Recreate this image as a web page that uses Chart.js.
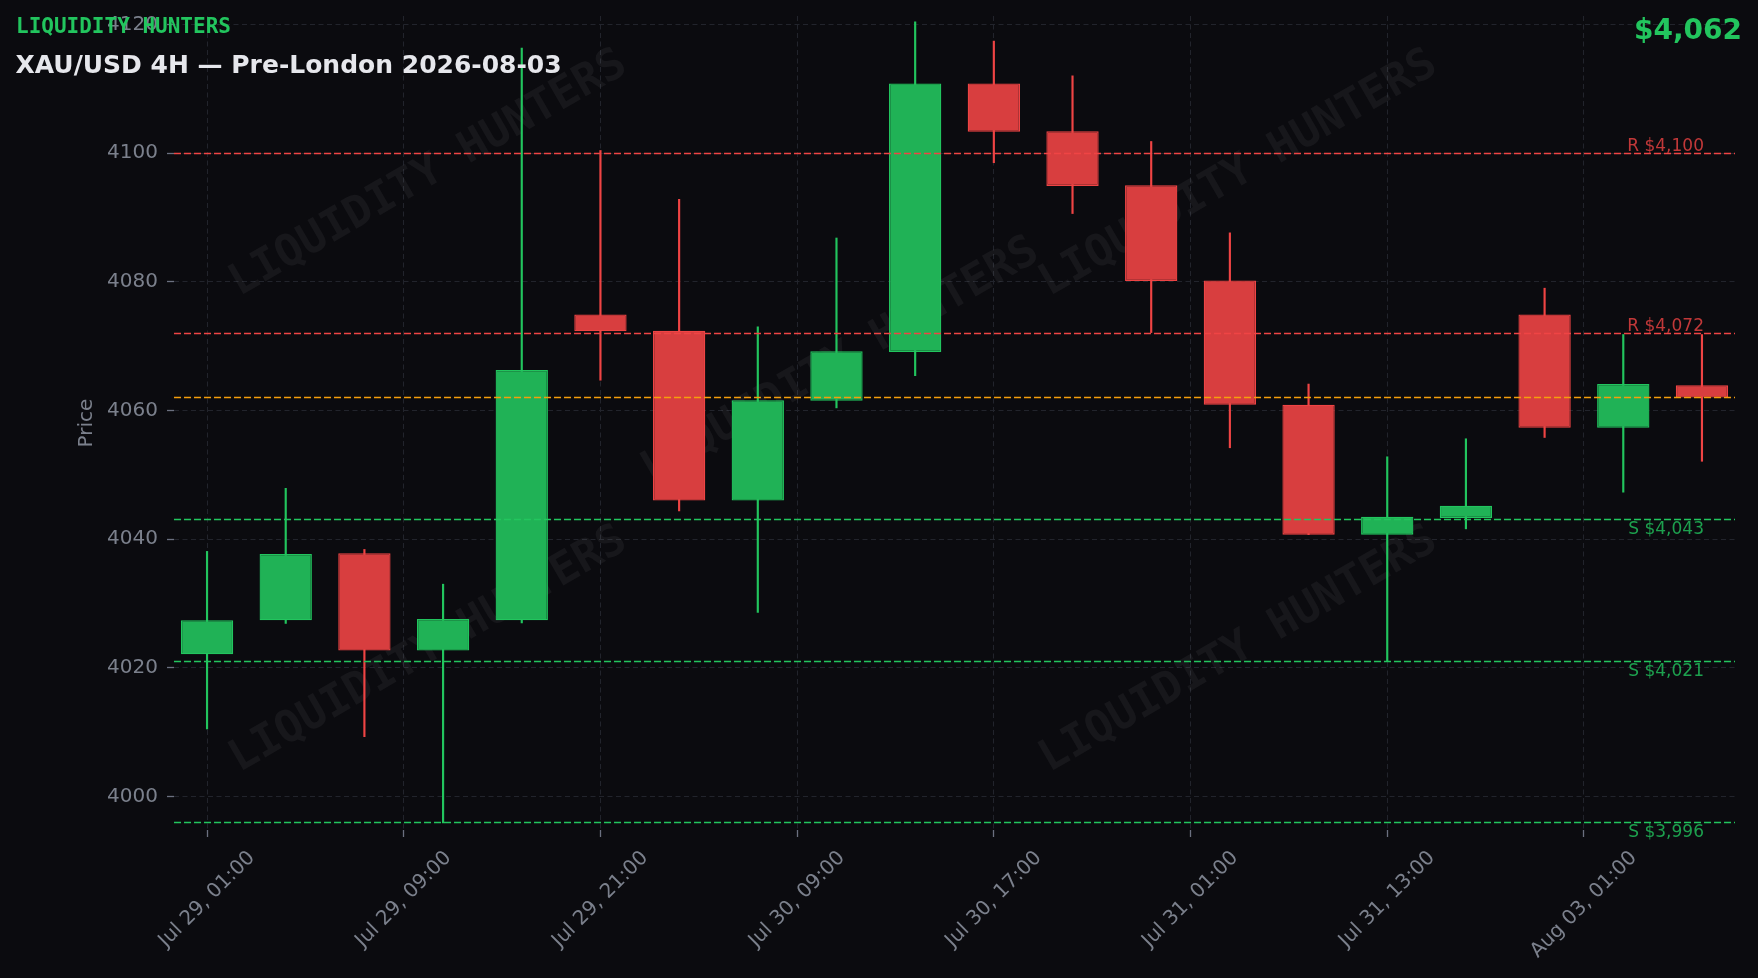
<!DOCTYPE html>
<html>
<head>
<meta charset="utf-8">
<title>XAU/USD 4H — Pre-London 2026-08-03</title>
<script src="https://cdn.jsdelivr.net/npm/chart.js@4.4.1/dist/chart.umd.min.js"></script>
<style>
  html, body { margin: 0; padding: 0; background: #0b0b0f; }
  #wrap { width: 1758px; height: 978px; position: relative; }
</style>
</head>
<body>
<div id="wrap"><canvas id="chart"></canvas></div>
<script>
// ---------------- data ----------------
const times = [
  'Jul 29, 01:00','Jul 29, 05:00','Jul 29, 09:00','Jul 29, 13:00','Jul 29, 17:00','Jul 29, 21:00',
  'Jul 30, 01:00','Jul 30, 05:00','Jul 30, 09:00','Jul 30, 13:00','Jul 30, 17:00','Jul 30, 21:00',
  'Jul 31, 01:00','Jul 31, 05:00','Jul 31, 09:00','Jul 31, 13:00','Jul 31, 17:00','Jul 31, 21:00',
  'Aug 03, 01:00','Aug 03, 05:00'
];
const opens  = [4022.1,4027.4,4037.8,4022.7,4027.4,4074.9,4072.4,4046.0,4061.5,4069.1,4110.8,4103.4,4095.0,4080.2,4060.9,4040.7,4043.3,4074.9,4057.3,4063.9];
const highs  = [4038.1,4047.9,4038.4,4033.0,4116.3,4100.4,4092.8,4073.0,4086.8,4120.4,4117.4,4112.0,4101.8,4087.6,4064.1,4052.8,4055.6,4079.0,4071.8,4071.8];
const lows   = [4010.5,4026.9,4009.3,3995.9,4027.0,4064.7,4044.4,4028.6,4060.4,4065.4,4098.5,4090.6,4072.1,4054.2,4040.7,4021.1,4041.6,4055.8,4047.3,4052.1];
const closes = [4027.4,4037.7,4022.7,4027.6,4066.3,4072.3,4046.0,4061.6,4069.2,4110.8,4103.3,4094.9,4080.1,4060.9,4040.7,4043.5,4045.2,4057.3,4064.1,4062.0];

const xTickPositions = [0, 2.5, 5, 7.5, 10, 12.5, 15, 17.5];
const xTickLabels = ['Jul 29, 01:00','Jul 29, 09:00','Jul 29, 21:00','Jul 30, 09:00','Jul 30, 17:00','Jul 31, 01:00','Jul 31, 13:00','Aug 03, 01:00'];
const yTickValues = [4000, 4020, 4040, 4060, 4080, 4100, 4120];

const resistanceLevels = [4100, 4072];
const supportLevels = [4043, 4021, 3996];

const brandText = 'LIQUIDITY HUNTERS';
const titleText = 'XAU/USD 4H — Pre-London 2026-08-03';
const yAxisTitle = 'Price';

// ---------------- styles ----------------
const BG = '#0b0b0f';
const GREEN = '#22c55e';
const RED = '#ef4444';
const GREEN_FILL = '#20b256';
const RED_FILL = '#d83e3f';
const ORANGE = '#f59e0b';
const GRID = '#22242c';
const TICK_MARK = '#6b7080';
const LABEL = '#7b808c';
const FONT = '"DejaVu Sans", "Liberation Sans", sans-serif';
const MONO = '"DejaVu Sans Mono", "Liberation Mono", monospace';

Chart.defaults.font.family = FONT;

const idx = times.map((t, i) => i);
const isUp = i => closes[i] >= opens[i];
const lastIndex = times.length - 1;
const currentPrice = closes[lastIndex];
const fmtPrice = v => '$' + Math.round(v).toLocaleString('en-US');

// ---------------- plugins ----------------
const bgPlugin = {
  id: 'bg',
  beforeDraw(chart) {
    const c = chart.ctx;
    c.save();
    c.fillStyle = BG;
    c.fillRect(0, 0, chart.width, chart.height);
    c.restore();
  }
};

const watermarkPlugin = {
  id: 'watermark',
  beforeDatasetsDraw(chart) {
    const a = chart.chartArea;
    const c = chart.ctx;
    const spots = [[0.163, 0.194], [0.682, 0.194], [0.427, 0.424], [0.163, 0.779], [0.682, 0.779]];
    c.save();
    c.beginPath();
    c.rect(a.left, a.top, a.right - a.left, a.bottom - a.top);
    c.clip();
    c.font = 'bold 44px ' + MONO;
    c.fillStyle = 'rgba(255,255,255,0.05)';
    c.textAlign = 'center';
    c.textBaseline = 'middle';
    spots.forEach(([fx, fy]) => {
      c.save();
      c.translate(a.left + fx * (a.right - a.left), a.top + fy * (a.bottom - a.top));
      c.rotate(-Math.PI / 6);
      c.fillText(brandText, 0, 0);
      c.restore();
    });
    c.restore();
  }
};

const levelsPlugin = {
  id: 'levels',
  afterDatasetsDraw(chart) {
    const a = chart.chartArea;
    const c = chart.ctx;
    const ys = chart.scales.y;
    const xs = chart.scales.x;
    const labelX = xs.getPixelForValue(lastIndex) + 2;
    const drawLine = (v, color) => {
      const y = Math.floor(ys.getPixelForValue(v)) + 0.5;
      c.save();
      c.strokeStyle = color;
      c.lineWidth = 1.6;
      c.setLineDash([7, 3]);
      c.beginPath();
      c.moveTo(a.left, y);
      c.lineTo(a.right, y);
      c.stroke();
      c.restore();
      return y;
    };
    c.save();
    c.font = '17px ' + FONT;
    c.textAlign = 'right';
    resistanceLevels.forEach(v => {
      const y = drawLine(v, RED);
      c.fillStyle = 'rgba(239,68,68,0.8)';
      c.textBaseline = 'alphabetic';
      c.fillText('R ' + fmtPrice(v), labelX, y - 3);
    });
    supportLevels.forEach(v => {
      const y = drawLine(v, GREEN);
      c.fillStyle = 'rgba(34,197,94,0.8)';
      c.textBaseline = 'alphabetic';
      c.fillText('S ' + fmtPrice(v), labelX, y + 14.5);
    });
    drawLine(currentPrice, ORANGE);
    c.restore();
  }
};

const overlayPlugin = {
  id: 'overlay',
  afterDraw(chart) {
    const c = chart.ctx;
    const a = chart.chartArea;
    const xs = chart.scales.x;
    // x tick labels, rotated 45deg and centred under each tick
    c.save();
    c.font = '20px ' + FONT;
    c.fillStyle = LABEL;
    c.textAlign = 'center';
    c.textBaseline = 'middle';
    const s = Math.SQRT1_2;
    xTickPositions.forEach((p, k) => {
      const label = xTickLabels[k];
      const w = c.measureText(label).width;
      const h = 23.3;
      const H = (w + h) * s;
      const cx = xs.getPixelForValue(p);
      const cy = a.bottom + 16.5 + H / 2;
      c.save();
      c.translate(cx, cy);
      c.rotate(-Math.PI / 4);
      c.fillText(label, 0, 0);
      c.restore();
    });
    c.restore();

    // header texts
    c.save();
    c.textBaseline = 'alphabetic';
    c.textAlign = 'left';
    c.fillStyle = GREEN;
    c.font = 'bold 21px ' + MONO;
    c.fillText(brandText, 16, 33);
    c.fillStyle = '#e6e7ec';
    c.font = 'bold 25px ' + FONT;
    c.fillText(titleText, 15.5, 73);
    c.textAlign = 'right';
    c.fillStyle = GREEN;
    c.font = 'bold 28px ' + FONT;
    c.fillText(fmtPrice(currentPrice), 1742, 39);
    c.restore();
  }
};

// ---------------- chart ----------------
new Chart(document.getElementById('chart'), {
  type: 'bar',
  data: {
    datasets: [
      {
        label: 'Body',
        data: idx.map(i => ({ x: i, y: [opens[i], closes[i]] })),
        backgroundColor: ctx => isUp(ctx.dataIndex) ? GREEN_FILL : RED_FILL,
        borderColor: ctx => isUp(ctx.dataIndex) ? GREEN : RED,
        borderWidth: 1.3,
        borderSkipped: false,
        barPercentage: 0.665,
        categoryPercentage: 1,
        grouped: false,
        order: 0
      },
      {
        label: 'Wick',
        data: idx.map(i => ({ x: i, y: [lows[i], highs[i]] })),
        backgroundColor: ctx => isUp(ctx.dataIndex) ? GREEN : RED,
        borderWidth: 0,
        barThickness: 1.5,
        grouped: false,
        order: 1
      }
    ]
  },
  options: {
    responsive: true,
    maintainAspectRatio: false,
    animation: false,
    events: [],
    layout: { autoPadding: false, padding: { left: 0, top: 16, right: 23, bottom: 0 } },
    plugins: { legend: { display: false }, tooltip: { enabled: false } },
    scales: {
      x: {
        type: 'linear',
        min: -0.42,
        max: 19.42,
        offset: false,
        grid: { offset: false, color: GRID, lineWidth: 1, drawTicks: true, tickLength: 7, tickColor: TICK_MARK, tickWidth: 1.3 },
        border: { display: false, dash: [5, 3.5] },
        ticks: { display: false },
        afterBuildTicks: s => { s.ticks = xTickPositions.map(v => ({ value: v })); },
        afterFit: s => { s.height = 148; s.paddingLeft = 0; s.paddingRight = 0; }
      },
      y: {
        type: 'linear',
        min: 3994.8,
        max: 4121.3,
        grid: { color: GRID, lineWidth: 1, drawTicks: true, tickLength: 7, tickColor: TICK_MARK, tickWidth: 1.3 },
        border: { display: false, dash: [5, 3.5] },
        ticks: { color: LABEL, font: { family: FONT, size: 20 }, padding: 9, callback: v => String(v) },
        afterBuildTicks: s => { s.ticks = yTickValues.map(v => ({ value: v })); },
        afterFit: s => { s.width = 174; s.paddingTop = 0; s.paddingBottom = 0; },
        title: { display: true, text: yAxisTitle, color: LABEL, font: { family: FONT, size: 20 }, padding: { top: 75, bottom: 0 } }
      }
    }
  },
  plugins: [bgPlugin, watermarkPlugin, levelsPlugin, overlayPlugin]
});
</script>
</body>
</html>
